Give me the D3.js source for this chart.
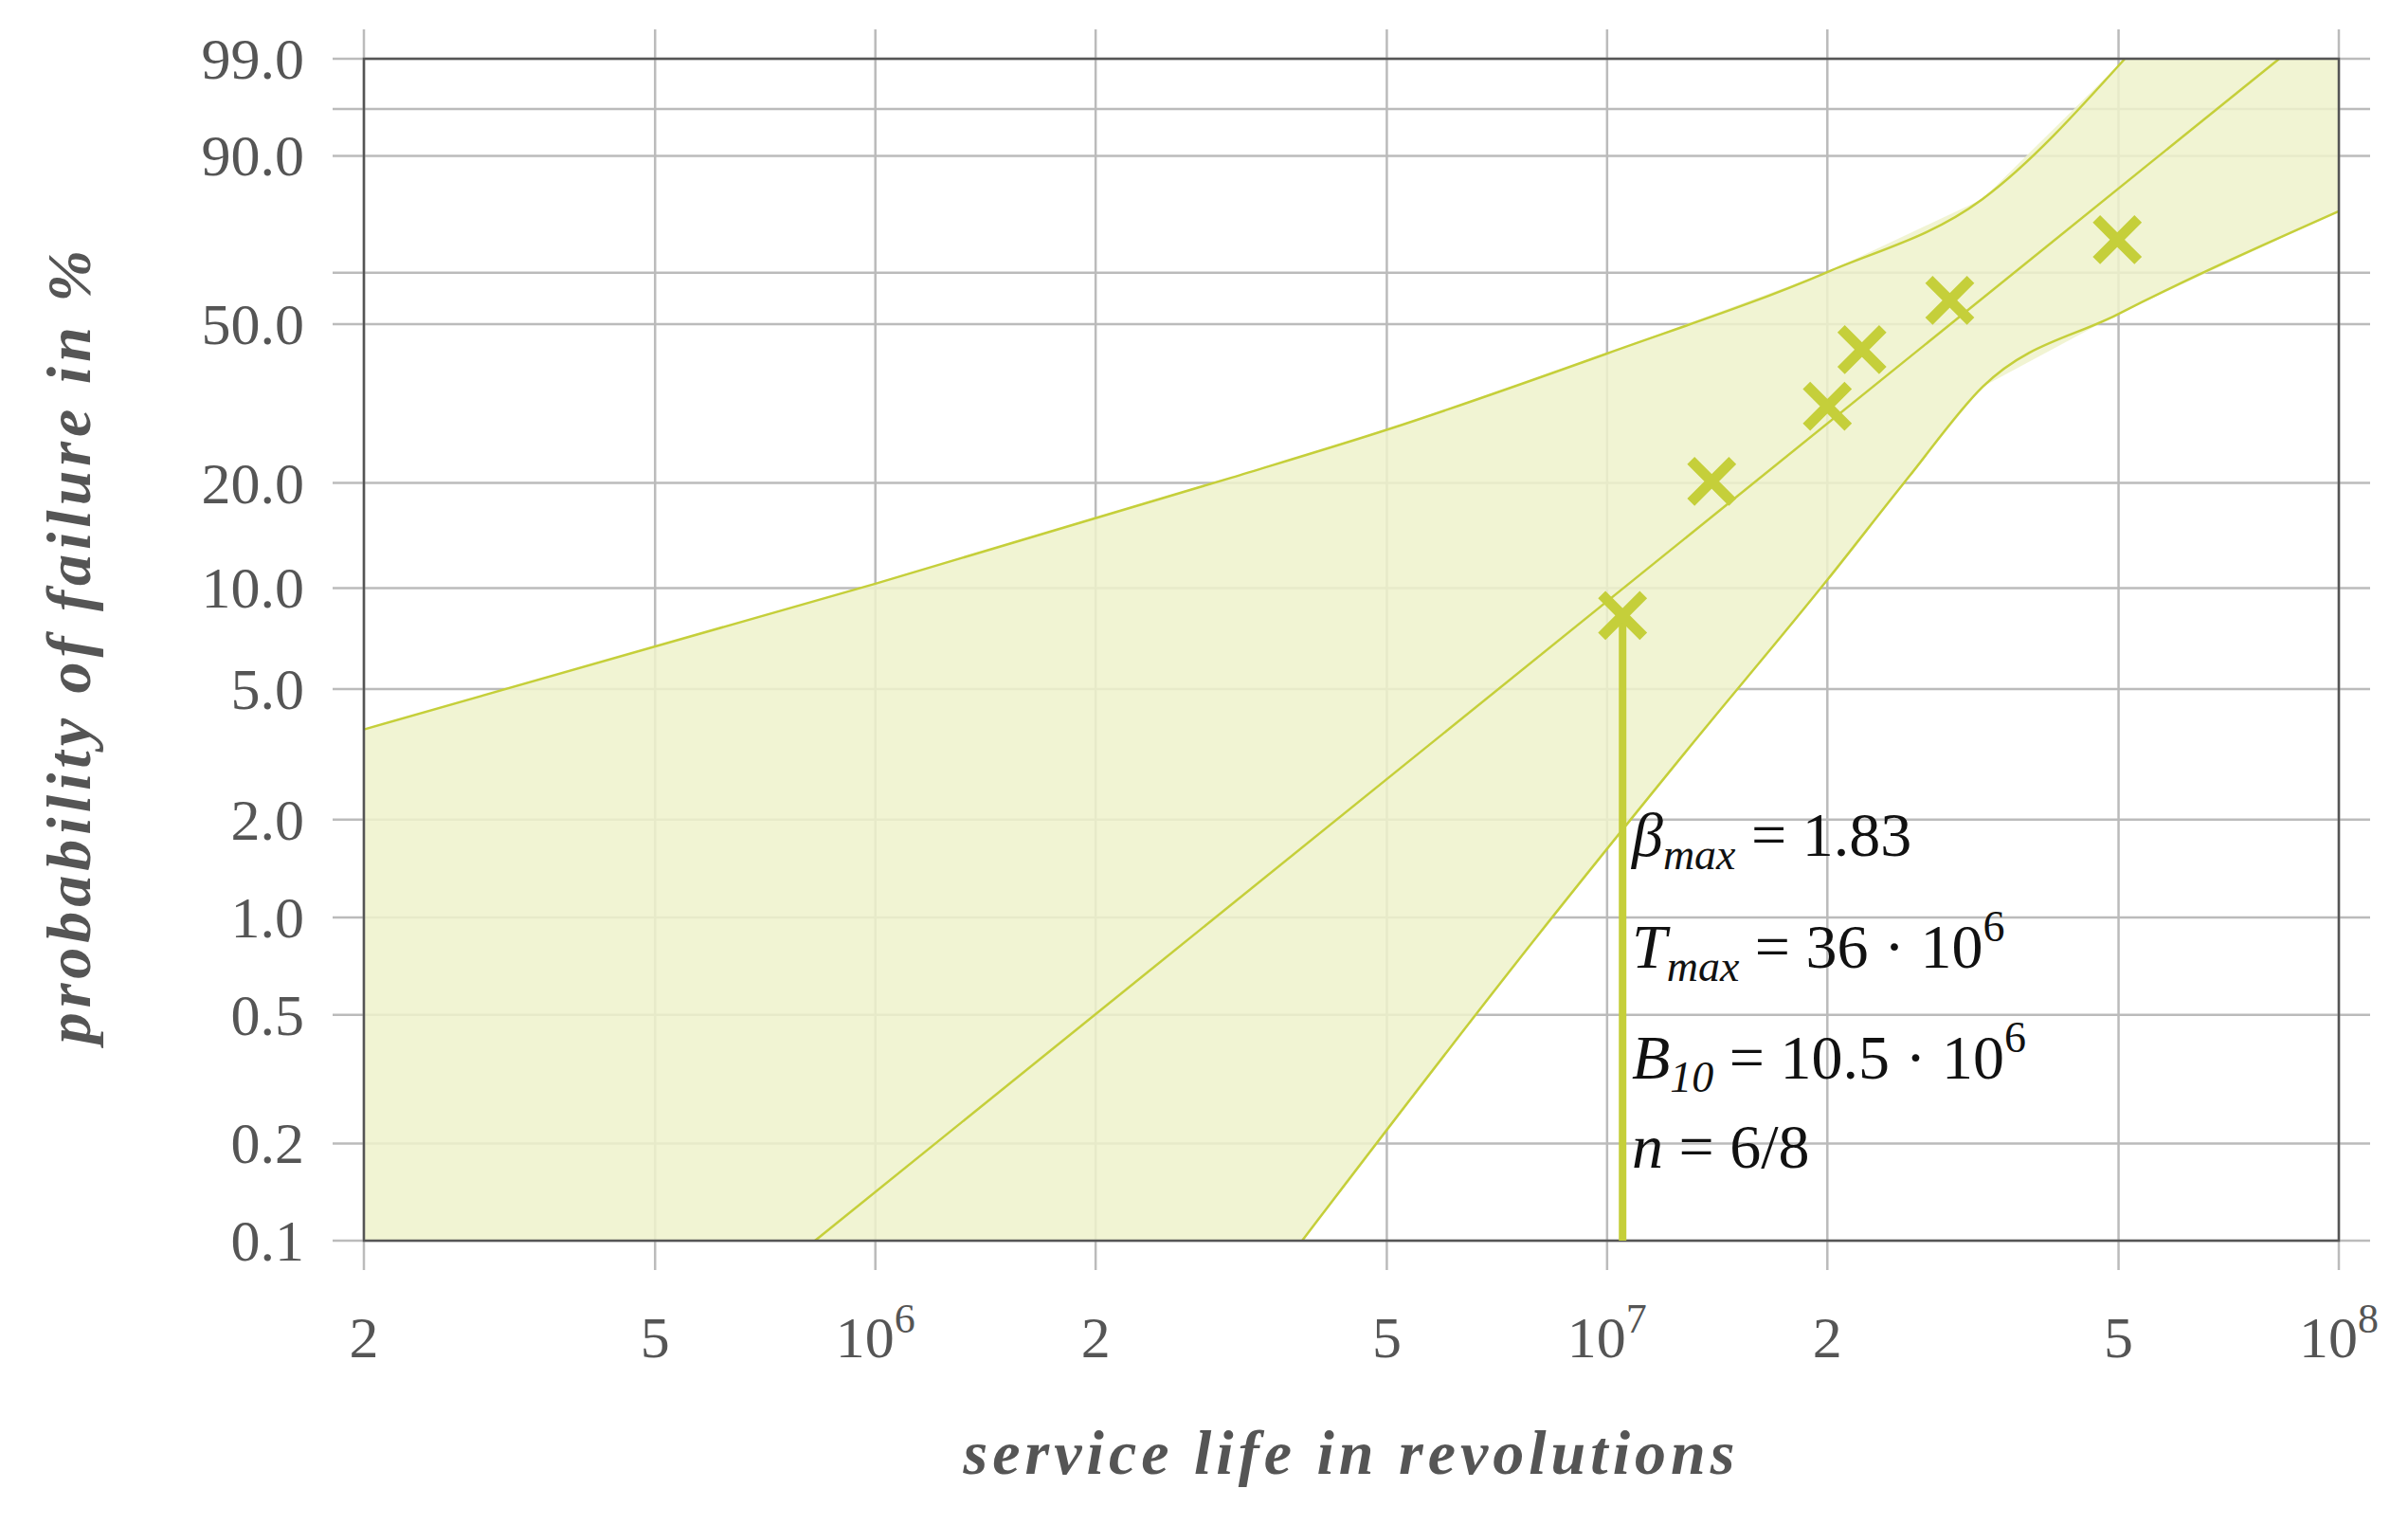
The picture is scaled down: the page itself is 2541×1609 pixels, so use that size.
<!DOCTYPE html>
<html>
<head>
<meta charset="utf-8">
<script src="https://cdn.jsdelivr.net/npm/d3@7"></script>
<style>
  body { margin: 0; background: #fff; }
  text { font-family: "Liberation Serif", "DejaVu Serif", serif; }
</style>
</head>
<body>
<svg></svg>
<script>
// failure data (median ranks)
const failTimes = [1.05e7, 1.39e7, 2.0e7, 2.23e7, 2.94e7, 4.98e7];
const failProbs = [0.083, 0.202, 0.320, 0.439, 0.560, 0.718];

const fitTimes = [8.27e5, 8.29e7];
const fitProbs = [0.001, 0.99];

// confidence band
const upperTimes = [2e5, 1e6, 3.07e6, 5.02e6, 1.0e7, 2.0e7, 3.26e7, 5.1e7, 1e8];
const upperProbs = [0.0377, 0.103, 0.207, 0.279, 0.430, 0.634, 0.816, 0.99, 0.99];
const lowerTimes = [1e8, 4.98e7, 3.26e7, 2.58e7, 2.0e7, 1.27e7, 7.9e6, 3.83e6, 2e5];
const lowerProbs = [0.788, 0.524, 0.358, 0.207, 0.1057, 0.0315, 0.00836, 0.001, 0.001];

const b10 = 1.05e7;
const b10Prob = 0.083;

const yTicks = [0.001, 0.002, 0.005, 0.01, 0.02, 0.05, 0.1, 0.2, 0.5, 0.9, 0.99];
const yMinor = [0.632, 0.96];
const xTicks = [2e5, 5e5, 1e6, 2e6, 5e6, 1e7, 2e7, 5e7, 1e8];

const W = 2541, H = 1609;
const pLeft = 384, pRight = 2468, pTop = 62, pBottom = 1309;
const lineCol = '#c5cf3a', fillCol = '#eef2cb', txt = '#555';

const svg = d3.select('svg').attr('width', W).attr('height', H);

const x = d3.scaleLog().domain([2e5, 1e8]).range([pLeft, pRight]);
const weib = p => Math.log(-Math.log(1 - p));
const yLin = d3.scaleLinear().domain([weib(0.001), weib(0.99)]).range([pBottom, pTop]);
const y = p => yLin(weib(p));

// grid
const grid = svg.append('g');
grid.selectAll('.gx').data(xTicks).enter().append('line')
  .attr('x1', d => x(d)).attr('x2', d => x(d))
  .attr('y1', pTop - 31).attr('y2', pBottom + 31)
  .attr('stroke', '#bbb').attr('stroke-width', 2.5);
grid.selectAll('.gy').data(yTicks.concat(yMinor)).enter().append('line')
  .attr('x1', pLeft - 33).attr('x2', pRight + 33)
  .attr('y1', d => y(d)).attr('y2', d => y(d))
  .attr('stroke', '#bbb').attr('stroke-width', 2.5);

// band
const band = upperTimes.map((t, i) => [x(t), y(upperProbs[i])])
  .concat(lowerTimes.map((t, i) => [x(t), y(lowerProbs[i])]));
svg.append('path')
  .attr('d', d3.line()(band))
  .attr('fill', fillCol).attr('fill-opacity', 0.85).attr('stroke', 'none');
const curve = d3.line().curve(d3.curveMonotoneX);
svg.append('path')
  .attr('d', curve(upperTimes.slice(0, 8).map((t, i) => [x(t), y(upperProbs[i])])))
  .attr('fill', 'none').attr('stroke', lineCol).attr('stroke-width', 2.5);
svg.append('path')
  .attr('d', curve(lowerTimes.slice(0, 8).map((t, i) => [x(t), y(lowerProbs[i])]).reverse()))
  .attr('fill', 'none').attr('stroke', lineCol).attr('stroke-width', 2.5);
svg.append('line')
  .attr('x1', x(fitTimes[0])).attr('y1', y(fitProbs[0]))
  .attr('x2', x(fitTimes[1])).attr('y2', y(fitProbs[1]))
  .attr('stroke', lineCol).attr('stroke-width', 2.5);

// frame
svg.append('rect').attr('x', pLeft).attr('y', pTop)
  .attr('width', pRight - pLeft).attr('height', pBottom - pTop)
  .attr('fill', 'none').attr('stroke', '#555').attr('stroke-width', 2.5);

// B10 line
svg.append('line')
  .attr('x1', x(b10)).attr('x2', x(b10))
  .attr('y1', pBottom).attr('y2', y(b10Prob))
  .attr('stroke', lineCol).attr('stroke-width', 8);

// markers
const s = 22;
const marks = svg.selectAll('.mk').data(failTimes).enter().append('g')
  .attr('transform', (d, i) => `translate(${x(d)},${y(failProbs[i])})`);
marks.append('path').attr('d', `M${-s},${-s}L${s},${s}M${-s},${s}L${s},${-s}`)
  .attr('stroke', lineCol).attr('stroke-width', 11);

// y tick labels
svg.selectAll('.yl').data(yTicks).enter().append('text')
  .attr('x', 321).attr('y', d => y(d) + 21)
  .attr('text-anchor', 'end').attr('font-size', 62).attr('fill', txt)
  .text(d => (d * 100).toFixed(1));

// x tick labels
const xl = svg.selectAll('.xl').data(xTicks).enter().append('text')
  .attr('x', d => x(d)).attr('y', 1432)
  .attr('text-anchor', 'middle').attr('font-size', 62).attr('fill', txt);
xl.each(function(d) {
  const e = Math.round(Math.log10(d));
  const m = d / Math.pow(10, e);
  const t = d3.select(this);
  if (Math.abs(m - 1) < 1e-9) {
    t.append('tspan').text('10');
    t.append('tspan').attr('dy', -26).attr('font-size', 44).text(e);
  } else t.text(Math.round(d / Math.pow(10, Math.floor(Math.log10(d)))));
});

// axis titles
svg.append('text').attr('x', 1426).attr('y', 1555)
  .attr('text-anchor', 'middle').attr('font-size', 66)
  .attr('font-weight', 'bold').attr('font-style', 'italic')
  .attr('letter-spacing', 5).attr('fill', txt)
  .text('service life in revolutions');
svg.append('text').attr('transform', 'translate(95,680) rotate(-90)')
  .attr('text-anchor', 'middle').attr('font-size', 66)
  .attr('font-weight', 'bold').attr('font-style', 'italic')
  .attr('letter-spacing', 5).attr('fill', txt)
  .text('probability of failure in %');

// annotation
const ann = [
  { a: 'β', sub: 'max', rest: ' = 1.83', sup: '' },
  { a: 'T', sub: 'max', rest: ' = 36 · 10', sup: '6' },
  { a: 'B', sub: '10', rest: ' = 10.5 · 10', sup: '6' },
  { a: 'n', sub: '', rest: ' = 6/8', sup: '' }
];
const annY = [903, 1021, 1138, 1232];
ann.forEach((d, i) => {
  const t = svg.append('text').attr('x', 1722).attr('y', annY[i])
    .attr('font-size', 66).attr('fill', '#111');
  t.append('tspan').attr('font-style', 'italic').text(d.a);
  if (d.sub) {
    t.append('tspan').attr('font-style', 'italic').attr('font-size', 46).attr('dy', 14).text(d.sub);
    t.append('tspan').attr('dy', -14).text(d.rest);
  } else t.append('tspan').text(d.rest);
  if (d.sup) t.append('tspan').attr('font-size', 46).attr('dy', -28).text(d.sup);
});
</script>
</body>
</html>
